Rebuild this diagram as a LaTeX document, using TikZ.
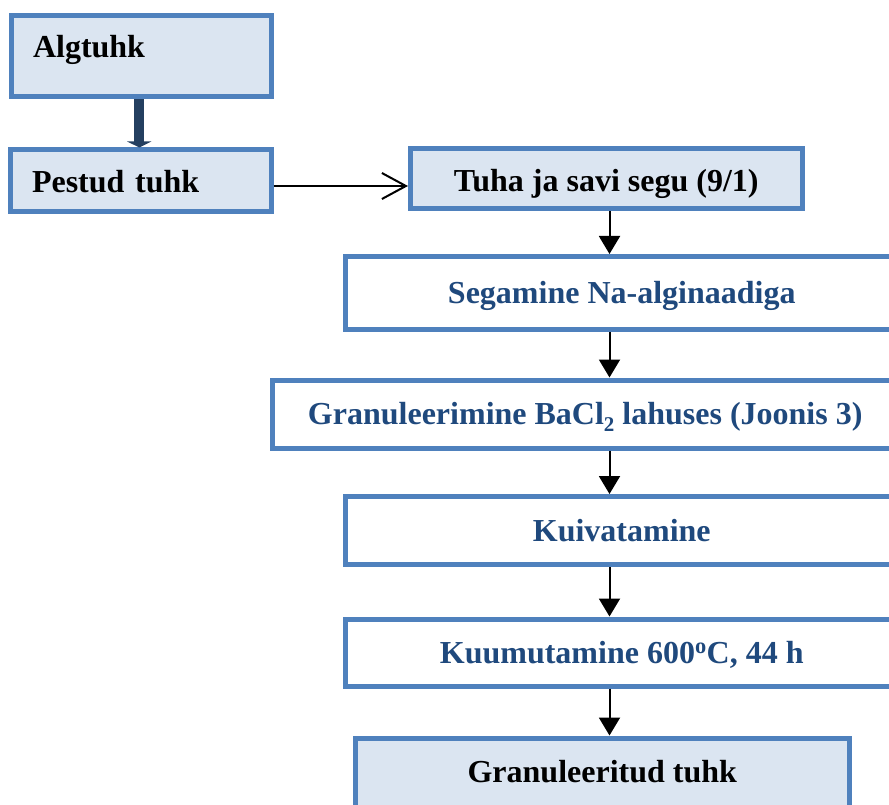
\documentclass[tikz,border=0pt]{standalone}
\usepackage{fontspec}
\setmainfont{Liberation Serif}
\usetikzlibrary{arrows.meta}
\definecolor{bordercol}{HTML}{4F81BD}
\definecolor{fillcol}{HTML}{DBE5F1}
\definecolor{textblue}{HTML}{1F497D}
\definecolor{arrowdark}{HTML}{243F60}
\tikzset{
  box/.style={rectangle, draw=bordercol, line width=5pt, inner sep=0pt,
    font=\fontsize{32}{38}\selectfont\bfseries, text height=21pt, text depth=0pt},
  filledbox/.style={box, fill=fillcol, text=black},
  whitebox/.style={box, fill=white, text=textblue},
  flowarrow/.style={line width=2pt, -{Triangle[width=21pt,length=18pt]}},
}
\begin{document}
\begin{tikzpicture}[x=1pt,y=-1pt]
\useasboundingbox (0,0) rectangle (889,805);
% boxes
\node[filledbox, minimum width=260pt, minimum height=81pt, text width=217pt,
      align=left, inner xsep=21.5pt, text depth=18pt] (A) at (141.5,56.5) {Algtuhk};
\node[filledbox, minimum width=261pt, minimum height=62pt, text width=217pt,
      align=left, inner xsep=22pt, text height=23pt] (P) at (140.5,181) {Pestud tuhk};
\node[filledbox, minimum width=391.5pt, minimum height=60pt, text height=27pt] (T) at (606.25,178.5) {Tuha ja savi segu (9/1)};
\node[whitebox, minimum width=552.5pt, minimum height=73pt] (S) at (621.75,293) {Segamine Na-alginaadiga};
\node[whitebox, minimum width=625.5pt, minimum height=68pt] (G) at (585.25,414)
  {Granuleerimine BaCl\raisebox{-0.22em}{\fontsize{21}{21}\selectfont 2} lahuses (Joonis 3)};
\node[whitebox, minimum width=552.5pt, minimum height=68pt] (K) at (621.75,530.5) {Kuivatamine};
\node[whitebox, minimum width=552.5pt, minimum height=67pt] (Ku) at (621.75,652.5) {Kuumutamine 600\textsuperscript{o}C, 44 h};
\node[filledbox, minimum width=494.5pt, minimum height=72pt, text depth=5pt] (Gt) at (602.25,774) {Granuleeritud tuhk};
% connectors
\coordinate (ax) at (609.5,0);
\coordinate (tx) at (139.3,0);
\draw[line width=10pt, draw=arrowdark, -{Triangle[width=24pt,length=6pt]}] (A.south -| tx) -- (P.north -| tx);
\path ([yshift=-5pt]P.east) coordinate (pe);
\draw[line width=2pt, -{Straight Barb[length=24pt,width=26pt]}] (pe) -- (pe -| T.west);
\draw[flowarrow] (T.south -| ax) -- (S.north -| ax);
\draw[flowarrow] (S.south -| ax) -- (G.north -| ax);
\draw[flowarrow] (G.south -| ax) -- (K.north -| ax);
\draw[flowarrow] (K.south -| ax) -- (Ku.north -| ax);
\draw[flowarrow] (Ku.south -| ax) -- (Gt.north -| ax);
\end{tikzpicture}
\end{document}
